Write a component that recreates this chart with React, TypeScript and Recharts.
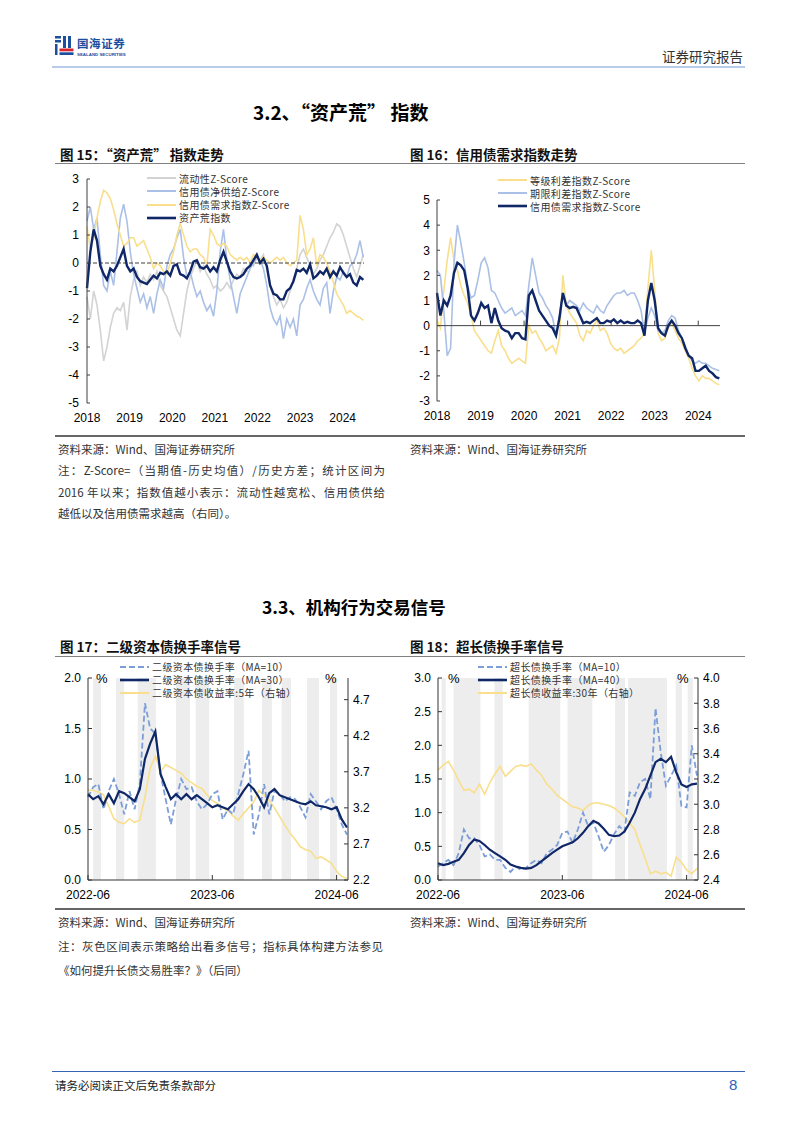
import React from "react";
import {
  LineChart,
  Line,
  XAxis,
  YAxis,
  ReferenceLine,
  ReferenceArea,
} from "recharts";

// ---------- 图15：资产荒指数（约每4周取一点，2018年起） ----------
const sampleStep = 0.078125;
const yearTicks = [2018, 2019, 2020, 2021, 2022, 2023, 2024];
const ticks15 = [-5, -4, -3, -2, -1, 0, 1, 2, 3];

const liquidity = [
  -1.2, -2.0, -1.0, -1.5, -2.4, -3.5, -3.0, -2.3, -1.8, -1.6,
  -1.7, -1.4, -2.4, -1.2, -0.6, -0.3, -0.8, -0.5, -0.7, -0.4,
  -0.6, -0.3, -0.8, -1.0, -1.2, -1.6, -2.0, -2.4, -2.6, -1.8,
  -1.0, -0.5, -0.2, 0.1, -0.3, -0.1, -0.4, -0.6, -0.9, -0.8,
  -1.0, -0.9, -0.7, -0.9, -0.6, -0.4, -0.5, -0.2, -0.3, 0.0,
  -0.1, 0.2, 0.1, 0.3, -0.2, -0.8, -1.2, -1.5, -1.3, -1.6,
  -1.4, -1.0, -0.6, -0.2, 0.3, 0.5, 0.2, -0.1, -0.4, -0.2,
  0.1, 0.3, 0.6, 0.9, 1.1, 1.4, 1.3, 1.0, 0.6, 0.2,
  -0.2, -0.5, -0.1, 0.3,
];
const netSupply = [
  1.5, 2.0, 1.2, 1.6, 0.3, -0.8, -1.0, -0.3, -0.8, 0.4,
  1.6, 2.1, 1.5, 0.4, -0.4, -0.9, -1.4, -1.1, -1.6, -1.2,
  -1.8, -1.1, -0.6, -0.9, -0.1, 0.3, 0.5, 0.9, 1.2, 0.2,
  -0.5, -0.3, -0.8, -1.2, -1.0, -1.4, -1.7, -1.5, -1.9, -1.0,
  0.4, 1.2, 0.1, -0.6, -1.2, -1.8, -1.1, -0.8, -0.5, -0.2,
  0.0, 0.2, 0.1, -0.2, -0.8, -1.6, -2.0, -2.2, -1.9, -2.7,
  -2.0, -2.3, -2.0, -2.6, -1.5, -1.3, -0.9, -0.6, -1.0, -1.3,
  -1.5, -0.9, -0.7, -1.8, -1.0, -0.5, -0.6, -0.3, -0.5, -0.1,
  0.0, 0.3, 0.8, 0.2,
];
const creditDemand15 = [
  1.3, 0.5, 0.9, 1.6, 2.2, 2.6, 2.5, 2.3, 1.9, 1.4,
  1.0, 0.6, 0.7, 0.9, 0.9, 0.6, 0.7, 0.8, 0.5, 0.2,
  -0.2, 0.0, -0.1, -0.3, -0.4, 0.0, 0.4, 1.0, 1.4, 1.0,
  0.6, 0.4, 0.5, 0.5, 0.3, 0.2, -0.1, 1.2, 1.0, 0.7,
  0.6, 0.7, 0.6, 0.3, 0.2, 0.1, 0.2, 0.1, 0.2, 0.0,
  0.3, 0.2, 0.1, 0.2, 0.1, 0.0, 0.1, 0.2, 0.1, 0.2,
  0.0, -0.1, 0.0, 0.1, 1.7, 1.2, 0.3, 0.5, 0.9, -0.1,
  0.3, 0.2, 0.0, -0.3, -0.7, -1.1, -1.3, -1.5, -1.8, -1.7,
  -1.8, -1.9, -1.95, -2.05,
];
const assetShortage = [
  -0.9, 0.4, 1.2, 0.8, -0.1, -0.4, -0.6, -0.2, -0.3, -0.1,
  0.2, 0.5, -0.1, -0.3, -0.2, -0.5, -0.65, -0.7, -0.75, -0.6,
  -0.45, -0.55, -0.35, -0.4, -0.3, -0.45, -0.1, -0.05, -0.4, -0.45,
  -0.55, -0.3, 0.05, 0.1, -0.15, -0.2, -0.1, -0.3, -0.15, -0.3,
  0.1, 0.4, 0.05, -0.3, -0.5, -0.55, -0.5, -0.4, -0.2, -0.1,
  0.1, 0.3, 0.0, 0.15, -0.1, -0.8, -1.1, -1.15, -1.3, -1.3,
  -1.0, -0.9, -0.65, -0.25, -0.3, -0.2, -0.35, -0.05, -0.55, -0.45,
  -0.3, -0.4, -0.2, -0.5, -0.3, -0.45, -0.15, -0.35, -0.5, -0.4,
  -0.7, -0.8, -0.5, -0.6,
];

// ---------- 图16：信用债需求指数 ----------
const ticks16 = [-3, -2, -1, 0, 1, 2, 3, 4, 5];
const gradeSpread = [
  0.2, -0.1, 1.4, 2.6, 3.5, 2.6, 2.2, 1.6, 1.2, 0.9,
  0.4, -0.2, -0.4, -0.6, -0.8, -1.0, -1.1, -0.6, -0.2, -0.8,
  -1.0, -1.3, -1.5, -1.4, -1.3, -1.4, -1.5, 0.0, -0.3, -0.2,
  -0.5, -0.7, -1.0, -0.9, -0.8, -1.1, -0.5, 2.0, 0.8, 0.5,
  0.3, 0.1, -0.4, -0.6, -0.2, -0.3, 0.0, 0.2, -0.2, -0.1,
  -0.3, -0.7, -0.9, -1.0, -0.9, -1.1, -1.0, -0.9, -0.8, -0.6,
  -0.5, -0.3, 1.5, 3.0, 1.4, -0.3, -0.6, -0.5, -0.1, 0.1,
  -0.2, -0.5, -0.7, -1.0, -1.3, -1.7, -2.0, -2.2, -2.0, -2.1,
  -2.1, -2.2, -2.3, -2.35,
];
const termSpread = [
  2.2, 2.0, 0.6, -1.2, -0.9, 2.5, 4.0, 3.3, 2.5, 1.6,
  1.1, 1.2, 1.8, 2.5, 2.7, 2.3, 1.4, 1.3, 1.0, 0.7,
  0.5, 0.6, 0.7, 0.4, 0.5, 0.6, 0.4, 1.6, 2.7, 2.0,
  1.3, 1.1, 0.8, 0.6, 0.3, -0.4, 0.4, 1.3, 0.8, 1.0,
  0.9, 0.8, 0.6, 0.9, 0.7, 0.6, 0.5, 0.8, 0.6, 0.5,
  0.8, 1.0, 1.2, 1.3, 1.3, 1.4, 1.2, 1.3, 1.3, 1.0,
  0.6, -0.3, 0.3, 0.7, 0.4, -0.2, -0.3, -0.2, 0.2, 0.4,
  0.3, -0.2, -0.5, -0.8, -1.2, -1.4, -1.5, -1.4, -1.5, -1.5,
  -1.6, -1.7, -1.75, -1.8,
];
const creditDemand16 = [
  1.3, 0.4, 1.0, 0.8, 1.2, 2.1, 2.5, 2.4, 2.2, 1.5,
  0.4, 0.2, 0.5, 0.9, 0.7, 0.8, 0.1, 0.7, 0.2, -0.1,
  -0.2, -0.25, -0.5, -0.3, -0.3, -0.5, -0.55, 1.2, 1.4, 1.0,
  0.6, 0.4, 0.2, 0.0, -0.1, -0.4, 0.3, 1.3, 0.8, 0.7,
  0.75, 0.7, 0.4, 0.1, 0.15, 0.1, 0.2, 0.3, 0.1, 0.1,
  0.2, 0.15, 0.25, 0.1, 0.2, 0.1, 0.15, 0.1, 0.1, 0.2,
  0.1, -0.4, 1.0, 1.7, 1.0, -0.1, -0.3, -0.4, 0.0, 0.2,
  0.0, -0.3, -0.5, -0.9, -1.2, -1.3, -1.8, -1.8, -1.7, -1.6,
  -1.8, -1.9, -2.05, -2.1,
];

// ---------- 图17 / 图18：换手率信号（半月一点，月份从2022-06起算） ----------
const halfMonth = 0.5;
const monthTicks = [0, 12, 24];
const monthLabels = ["2022-06", "2023-06", "2024-06"];

const tier2MA10 = [
  0.82, 0.92, 0.95, 0.7, 0.88, 1.0, 0.85, 0.65, 0.88, 0.7,
  0.95, 1.75, 1.5, 1.45, 1.05, 0.8, 0.55, 0.8, 1.0, 0.9,
  0.92, 0.78, 0.7, 0.75, 0.85, 0.88, 0.6, 0.7, 0.65, 0.85,
  1.05, 1.28, 0.45, 0.65, 0.95, 0.65, 0.88, 0.85, 0.78, 0.82,
  0.8, 0.72, 0.62, 0.85, 0.78, 0.7, 0.78, 0.82, 0.7, 0.55,
  0.45,
];
const tier2MA30 = [
  0.85, 0.8, 0.83, 0.75, 0.85, 0.76, 0.88, 0.86, 0.82, 0.78,
  0.9, 1.2, 1.35, 1.47, 1.05, 0.92, 0.8, 0.85, 0.8, 0.85,
  0.8, 0.84, 0.8, 0.76, 0.72, 0.74, 0.72, 0.7, 0.75, 0.8,
  0.88, 0.95, 0.9, 0.82, 0.72, 0.86, 0.9, 0.84, 0.82, 0.8,
  0.78, 0.76, 0.75, 0.78, 0.74, 0.73, 0.72, 0.7, 0.72, 0.6,
  0.52,
];
const tier2Yield5y = [
  3.45, 3.44, 3.42, 3.38, 3.22, 3.05, 3.0, 2.98, 3.05, 3.0,
  3.03, 3.35, 3.75, 3.92, 3.7, 3.8, 3.76, 3.72, 3.68, 3.6,
  3.55, 3.5, 3.47, 3.38, 3.3, 3.26, 3.2, 3.16, 3.09, 3.03,
  3.12, 3.2, 3.28, 3.44, 3.38, 3.3, 3.2, 3.08, 2.96, 2.85,
  2.76, 2.66, 2.62, 2.6, 2.5, 2.52, 2.48, 2.43, 2.32, 2.25,
  2.22,
];
const bands17 = [
  [0.5, 1.25], [2.7, 3.5], [4.8, 6.55], [8.5, 9.85], [10.4, 11.7],
  [14.1, 15.05], [16.8, 17.75], [18.7, 19.6], [21.15, 22.3], [23.35, 24.05],
];

const ultraMA10 = [
  0.2, 0.25, 0.3, 0.22, 0.4, 0.75, 0.62, 0.62, 0.52, 0.35,
  0.38, 0.3, 0.3, 0.18, 0.12, 0.2, 0.15, 0.18, 0.25, 0.3,
  0.25, 0.4, 0.45, 0.52, 0.7, 0.72, 0.55, 0.75, 1.0, 0.8,
  0.85, 0.65, 0.42, 0.52, 0.68, 0.8, 0.72, 1.3, 1.25, 1.45,
  1.5, 1.2, 2.55, 1.9, 1.4, 1.55, 1.7, 1.1, 1.08, 2.0,
  1.55,
];
const ultraMA40 = [
  0.25, 0.22, 0.24, 0.27, 0.3, 0.4, 0.52, 0.6, 0.58, 0.52,
  0.45, 0.4, 0.35, 0.3, 0.23, 0.2, 0.18, 0.17, 0.18, 0.22,
  0.28, 0.34, 0.4, 0.45, 0.5, 0.53, 0.56, 0.62, 0.7, 0.8,
  0.88, 0.84, 0.76, 0.67, 0.65, 0.66, 0.72, 0.85, 1.0, 1.2,
  1.35, 1.55, 1.75, 1.8, 1.75, 1.83, 1.6, 1.42, 1.38, 1.42,
  1.43,
];
const ultraYield30y = [
  3.27, 3.31, 3.34, 3.27, 3.19, 3.11, 3.12, 3.09, 3.16, 3.08,
  3.17, 3.24, 3.3, 3.22, 3.26, 3.3, 3.31, 3.3, 3.32, 3.27,
  3.23, 3.16, 3.12, 3.07, 3.04, 3.01, 2.98, 2.97, 2.95, 2.99,
  3.01, 3.01, 3.0, 2.99, 2.97, 2.94, 2.9, 2.85, 2.8, 2.68,
  2.57, 2.45, 2.47, 2.45, 2.46, 2.43, 2.58, 2.54, 2.48, 2.45,
  2.49,
];
const bands18 = [
  [0.35, 0.75], [1.5, 4.1], [5.45, 6.25], [8.75, 11.8], [12.5, 14.9],
  [17.1, 18.05], [18.35, 22.1], [22.95, 23.55], [24.1, 24.6],
];

// ---------- tables ----------
const data15 = assetShortage.map((v, i) => ({
  t: 2018 + i * sampleStep,
  liquidity: liquidity[i],
  netSupply: netSupply[i],
  demand: creditDemand15[i],
  index: v,
}));
const data16 = creditDemand16.map((v, i) => ({
  t: 2018 + i * sampleStep,
  grade: gradeSpread[i],
  term: termSpread[i],
  demand: v,
}));
const data17 = tier2MA30.map((v, i) => ({
  m: i * halfMonth,
  ma10: tier2MA10[i],
  ma30: v,
  yield5: tier2Yield5y[i],
}));
const data18 = ultraMA40.map((v, i) => ({
  m: i * halfMonth,
  ma10: ultraMA10[i],
  ma40: v,
  yield30: ultraYield30y[i],
}));

const NUM_FONT = "Arial, 'Liberation Sans', sans-serif";
const CJK_FONT = "'Noto Sans CJK SC', 'Noto Sans', sans-serif";

const NAVY = "#0f2767";
const LIGHT_BLUE = "#abc0e6";
const YELLOW = "#f9df8c";
const GRAY = "#d3d3d3";
const DASH_BLUE = "#7c9ed8";
const BAND = "#ededed";
const AXIS = "#404040";

const tickStyle = { fontSize: 12, fill: "#000", fontFamily: NUM_FONT };

type TxtProps = {
  x: number;
  y: number;
  size: number;
  children: React.ReactNode;
  bold?: boolean;
  color?: string;
  font?: string;
  width?: number;
  spacing?: number;
};

function Txt({ x, y, size, children, bold, color, font, width, spacing }: TxtProps) {
  return (
    <div
      style={{
        position: "absolute",
        left: x,
        top: y - size * 0.7,
        height: size * 1.4,
        lineHeight: `${size * 1.4}px`,
        fontSize: size,
        fontWeight: bold ? 700 : 400,
        color: color ?? "#222",
        fontFamily: font ?? CJK_FONT,
        whiteSpace: "nowrap",
        width,
        textAlign: width ? "justify" : undefined,
        textAlignLast: width ? "justify" : undefined,
        letterSpacing: spacing,
      }}
    >
      {children}
    </div>
  );
}

function HLine({ x, y, w, h, color }: { x: number; y: number; w: number; h: number; color: string }) {
  return <div style={{ position: "absolute", left: x, top: y, width: w, height: h, background: color }} />;
}

type LegendItem = { label: string; color: string; width: number; dash?: string };

function ChartLegend({ items, x, y, rowH }: { items: LegendItem[]; x: number; y: number; rowH: number }) {
  return (
    <div style={{ position: "absolute", left: x, top: y }}>
      {items.map((it, i) => (
        <div
          key={it.label}
          style={{
            position: "absolute",
            left: 0,
            top: i * rowH - 7,
            height: 14,
            display: "flex",
            alignItems: "center",
            whiteSpace: "nowrap",
          }}
        >
          <svg width={29} height={6}>
            <line x1={0} y1={3} x2={29} y2={3} stroke={it.color} strokeWidth={it.width} strokeDasharray={it.dash} />
          </svg>
          <span style={{ marginLeft: 3, fontSize: 10, color: "#333", fontFamily: CJK_FONT, letterSpacing: 0.4 }}>
            {it.label}
          </span>
        </div>
      ))}
    </div>
  );
}

function Logo() {
  return (
    <div style={{ position: "absolute", left: 55, top: 36 }}>
      <svg width={19} height={19}>
        <rect x={0} y={0} width={6} height={2.5} fill="#1d4f9f" />
        <rect x={0} y={4} width={6} height={2.5} fill="#1d4f9f" />
        <rect x={0} y={8} width={2.5} height={11} fill="#1d4f9f" />
        <rect x={8} y={0} width={3} height={12} fill="#1d4f9f" />
        <rect x={13} y={0} width={3} height={12} fill="#1d4f9f" />
        <rect x={4.5} y={12.5} width={14} height={2.8} fill="#d7262f" />
        <rect x={4.5} y={16.3} width={14} height={2.7} fill="#1d4f9f" />
      </svg>
    </div>
  );
}

function Chart15() {
  return (
    <div style={{ position: "absolute", left: 55, top: 168 }}>
      <LineChart width={340} height={265} data={data15} margin={{ top: 11, right: 31, bottom: 0, left: 0 }}>
        <XAxis
          dataKey="t"
          type="number"
          domain={[2018, 2024.5]}
          ticks={yearTicks}
          interval={0}
          axisLine={false}
          tickLine={false}
          tickSize={0}
          tickMargin={10}
          height={30}
          tick={tickStyle}
        />
        <YAxis
          domain={[-5, 3]}
          ticks={ticks15}
          interval={0}
          width={32}
          tickSize={-3}
          tickMargin={11}
          axisLine={{ stroke: AXIS }}
          tickLine={{ stroke: AXIS }}
          tick={tickStyle}
        />
        <Line dataKey="liquidity" stroke={GRAY} strokeWidth={1.6} dot={false} isAnimationActive={false} />
        <Line dataKey="netSupply" stroke={LIGHT_BLUE} strokeWidth={1.6} dot={false} isAnimationActive={false} />
        <Line dataKey="demand" stroke={YELLOW} strokeWidth={1.6} dot={false} isAnimationActive={false} />
        <ReferenceLine y={0} stroke={AXIS} strokeDasharray="4 2" />
        <Line dataKey="index" stroke={NAVY} strokeWidth={2.4} dot={false} isAnimationActive={false} />
      </LineChart>
      <ChartLegend
        x={92}
        y={10}
        rowH={13.3}
        items={[
          { label: "流动性Z-Score", color: GRAY, width: 2 },
          { label: "信用债净供给Z-Score", color: LIGHT_BLUE, width: 2 },
          { label: "信用债需求指数Z-Score", color: YELLOW, width: 2 },
          { label: "资产荒指数", color: NAVY, width: 2.6 },
        ]}
      />
    </div>
  );
}

function Chart16() {
  return (
    <div style={{ position: "absolute", left: 405, top: 168 }}>
      <LineChart width={340} height={265} data={data16} margin={{ top: 32, right: 25, bottom: 0, left: 0 }}>
        <XAxis
          dataKey="t"
          type="number"
          domain={[2018, 2024.5]}
          ticks={yearTicks}
          interval={0}
          axisLine={false}
          tickLine={false}
          tickSize={0}
          tickMargin={10}
          height={32}
          tick={tickStyle}
        />
        <YAxis
          domain={[-3, 5]}
          ticks={ticks16}
          interval={0}
          width={32}
          tickSize={-3}
          tickMargin={10}
          axisLine={{ stroke: AXIS }}
          tickLine={{ stroke: AXIS }}
          tick={tickStyle}
        />
        <Line dataKey="grade" stroke={YELLOW} strokeWidth={1.6} dot={false} isAnimationActive={false} />
        <Line dataKey="term" stroke={LIGHT_BLUE} strokeWidth={1.6} dot={false} isAnimationActive={false} />
        <ReferenceLine y={0} stroke={AXIS} />
        {yearTicks.slice(1).map((yr) => (
          <ReferenceLine
            key={yr}
            segment={[
              { x: yr, y: 0 },
              { x: yr, y: 0.2 },
            ]}
            stroke={AXIS}
          />
        ))}
        <Line dataKey="demand" stroke={NAVY} strokeWidth={2.4} dot={false} isAnimationActive={false} />
      </LineChart>
      <ChartLegend
        x={93}
        y={12}
        rowH={13}
        items={[
          { label: "等级利差指数Z-Score", color: YELLOW, width: 2 },
          { label: "期限利差指数Z-Score", color: LIGHT_BLUE, width: 2 },
          { label: "信用债需求指数Z-Score", color: NAVY, width: 2.6 },
        ]}
      />
    </div>
  );
}

type TurnoverProps = {
  left: number;
  data: Record<string, number>[];
  bands: number[][];
  leftDomain: [number, number];
  leftTicks: number[];
  rightDomain: [number, number];
  rightTicks: number[];
  maKey: string;
  yieldKey: string;
  legend: LegendItem[];
  legendX: number;
  pctLeft: number;
  pctRight: number;
};

function TurnoverChart(p: TurnoverProps) {
  return (
    <div style={{ position: "absolute", left: p.left, top: 660 }}>
      <LineChart width={340} height={250} data={p.data} margin={{ top: 18, right: 17, bottom: 0, left: 0 }}>
        <XAxis
          dataKey="m"
          type="number"
          domain={[0, 25.1]}
          ticks={monthTicks}
          interval={0}
          tickFormatter={(v: number) => monthLabels[monthTicks.indexOf(v)]}
          axisLine={{ stroke: "#333" }}
          tickLine={{ stroke: "#333" }}
          tickSize={-5}
          tickMargin={15}
          height={30}
          tick={tickStyle}
        />
        <YAxis
          yAxisId="left"
          domain={p.leftDomain}
          ticks={p.leftTicks}
          interval={0}
          width={33}
          tickSize={-4}
          tickMargin={11}
          tickFormatter={(v: number) => v.toFixed(1)}
          axisLine={{ stroke: "#333" }}
          tickLine={{ stroke: "#333" }}
          tick={tickStyle}
        />
        <YAxis
          yAxisId="right"
          orientation="right"
          domain={p.rightDomain}
          ticks={p.rightTicks}
          interval={0}
          width={30}
          tickSize={-4}
          tickMargin={9}
          tickFormatter={(v: number) => v.toFixed(1)}
          axisLine={{ stroke: "#333" }}
          tickLine={{ stroke: "#333" }}
          tick={tickStyle}
        />
        {p.bands.map(([a, b]) => (
          <ReferenceArea key={a} yAxisId="left" x1={a} x2={b} fill={BAND} fillOpacity={1} stroke="none" />
        ))}
        <Line yAxisId="right" dataKey={p.yieldKey} stroke={YELLOW} strokeWidth={1.6} dot={false} isAnimationActive={false} />
        <Line
          yAxisId="left"
          dataKey="ma10"
          stroke={DASH_BLUE}
          strokeWidth={1.8}
          strokeDasharray="6 3"
          dot={false}
          isAnimationActive={false}
        />
        <Line yAxisId="left" dataKey={p.maKey} stroke={NAVY} strokeWidth={2.2} dot={false} isAnimationActive={false} />
      </LineChart>
      <Txt x={p.pctLeft} y={19} size={13} font={NUM_FONT} color="#000">%</Txt>
      <Txt x={p.pctRight} y={19} size={13} font={NUM_FONT} color="#000">%</Txt>
      <ChartLegend x={p.legendX} y={6.5} rowH={13} items={p.legend} />
    </div>
  );
}

export default function App() {
  return (
    <div
      lang="zh-CN"
      style={{ position: "absolute", left: 0, top: 0, width: 802, height: 1133, background: "#fff", overflow: "hidden" }}
    >
      {/* header */}
      <Logo />
      <Txt x={77} y={43.5} size={11.5} bold color="#1d4f9f" spacing={0.6}>国海证券</Txt>
      <Txt x={77} y={55} size={4.4} bold color="#1d4f9f" font={NUM_FONT}>SEALAND SECURITIES</Txt>
      <Txt x={662} y={56} size={13.5} color="#333">证券研究报告</Txt>
      <HLine x={52} y={66} w={693} h={2} color="#b8cbe8" />

      {/* 3.2 */}
      <Txt x={253} y={112} size={19} bold color="#000">3.2、“资产荒” 指数</Txt>
      <Txt x={60} y={154} size={13.5} bold color="#111">图 15：“资产荒” 指数走势</Txt>
      <Txt x={410} y={154} size={13.5} bold color="#111">图 16：信用债需求指数走势</Txt>
      <HLine x={55} y={163} w={690} h={1} color="#808080" />
      <Chart15 />
      <Chart16 />
      <HLine x={55} y={435} w={690} h={2} color="#666" />
      <Txt x={58} y={449} size={11.5} color="#333">资料来源：Wind、国海证券研究所</Txt>
      <Txt x={410} y={449} size={11.5} color="#333">资料来源：Wind、国海证券研究所</Txt>
      <Txt x={58} y={470} size={11.5} color="#333" width={327}>注：Z-Score=（当期值-历史均值）/历史方差；统计区间为</Txt>
      <Txt x={58} y={492} size={11.5} color="#333" width={327}>2016 年以来；指数值越小表示：流动性越宽松、信用债供给</Txt>
      <Txt x={58} y={513} size={11.5} color="#333">越低以及信用债需求越高（右同）。</Txt>

      {/* 3.3 */}
      <Txt x={262} y={607} size={17.5} bold color="#000">3.3、机构行为交易信号</Txt>
      <Txt x={60} y={646} size={13.5} bold color="#111">图 17：二级资本债换手率信号</Txt>
      <Txt x={410} y={646} size={13.5} bold color="#111">图 18：超长债换手率信号</Txt>
      <HLine x={55} y={656} w={690} h={1} color="#808080" />
      <TurnoverChart
        left={55}
        data={data17}
        bands={bands17}
        leftDomain={[0, 2]}
        leftTicks={[0, 0.5, 1, 1.5, 2]}
        rightDomain={[2.2, 5.0]}
        rightTicks={[2.2, 2.7, 3.2, 3.7, 4.2, 4.7]}
        maKey="ma30"
        yieldKey="yield5"
        legendX={65}
        pctLeft={41}
        pctRight={270}
        legend={[
          { label: "二级资本债换手率（MA=10）", color: DASH_BLUE, width: 2, dash: "6 3" },
          { label: "二级资本债换手率（MA=30）", color: NAVY, width: 2.6 },
          { label: "二级资本债收益率:5年（右轴）", color: YELLOW, width: 2 },
        ]}
      />
      <TurnoverChart
        left={405}
        data={data18}
        bands={bands18}
        leftDomain={[0, 3]}
        leftTicks={[0, 0.5, 1, 1.5, 2, 2.5, 3]}
        rightDomain={[2.4, 4.0]}
        rightTicks={[2.4, 2.6, 2.8, 3.0, 3.2, 3.4, 3.6, 3.8, 4.0]}
        maKey="ma40"
        yieldKey="yield30"
        legendX={73}
        pctLeft={43}
        pctRight={272}
        legend={[
          { label: "超长债换手率（MA=10）", color: DASH_BLUE, width: 2, dash: "6 3" },
          { label: "超长债换手率（MA=40）", color: NAVY, width: 2.6 },
          { label: "超长债收益率:30年（右轴）", color: YELLOW, width: 2 },
        ]}
      />
      <HLine x={55} y={908} w={690} h={2} color="#666" />
      <Txt x={58} y={922} size={11.5} color="#333">资料来源：Wind、国海证券研究所</Txt>
      <Txt x={410} y={922} size={11.5} color="#333">资料来源：Wind、国海证券研究所</Txt>
      <Txt x={58} y={946} size={11.5} color="#333" width={325}>注：灰色区间表示策略给出看多信号；指标具体构建方法参见</Txt>
      <Txt x={58} y={970} size={11.5} color="#333">《如何提升长债交易胜率？》（后同）</Txt>

      {/* footer */}
      <HLine x={52} y={1071} w={693} h={1} color="#3565b5" />
      <Txt x={55} y={1085} size={11.5} color="#222">请务必阅读正文后免责条款部分</Txt>
      <Txt x={729} y={1084} size={15} color="#2e62b8" font={NUM_FONT}>8</Txt>
    </div>
  );
}
